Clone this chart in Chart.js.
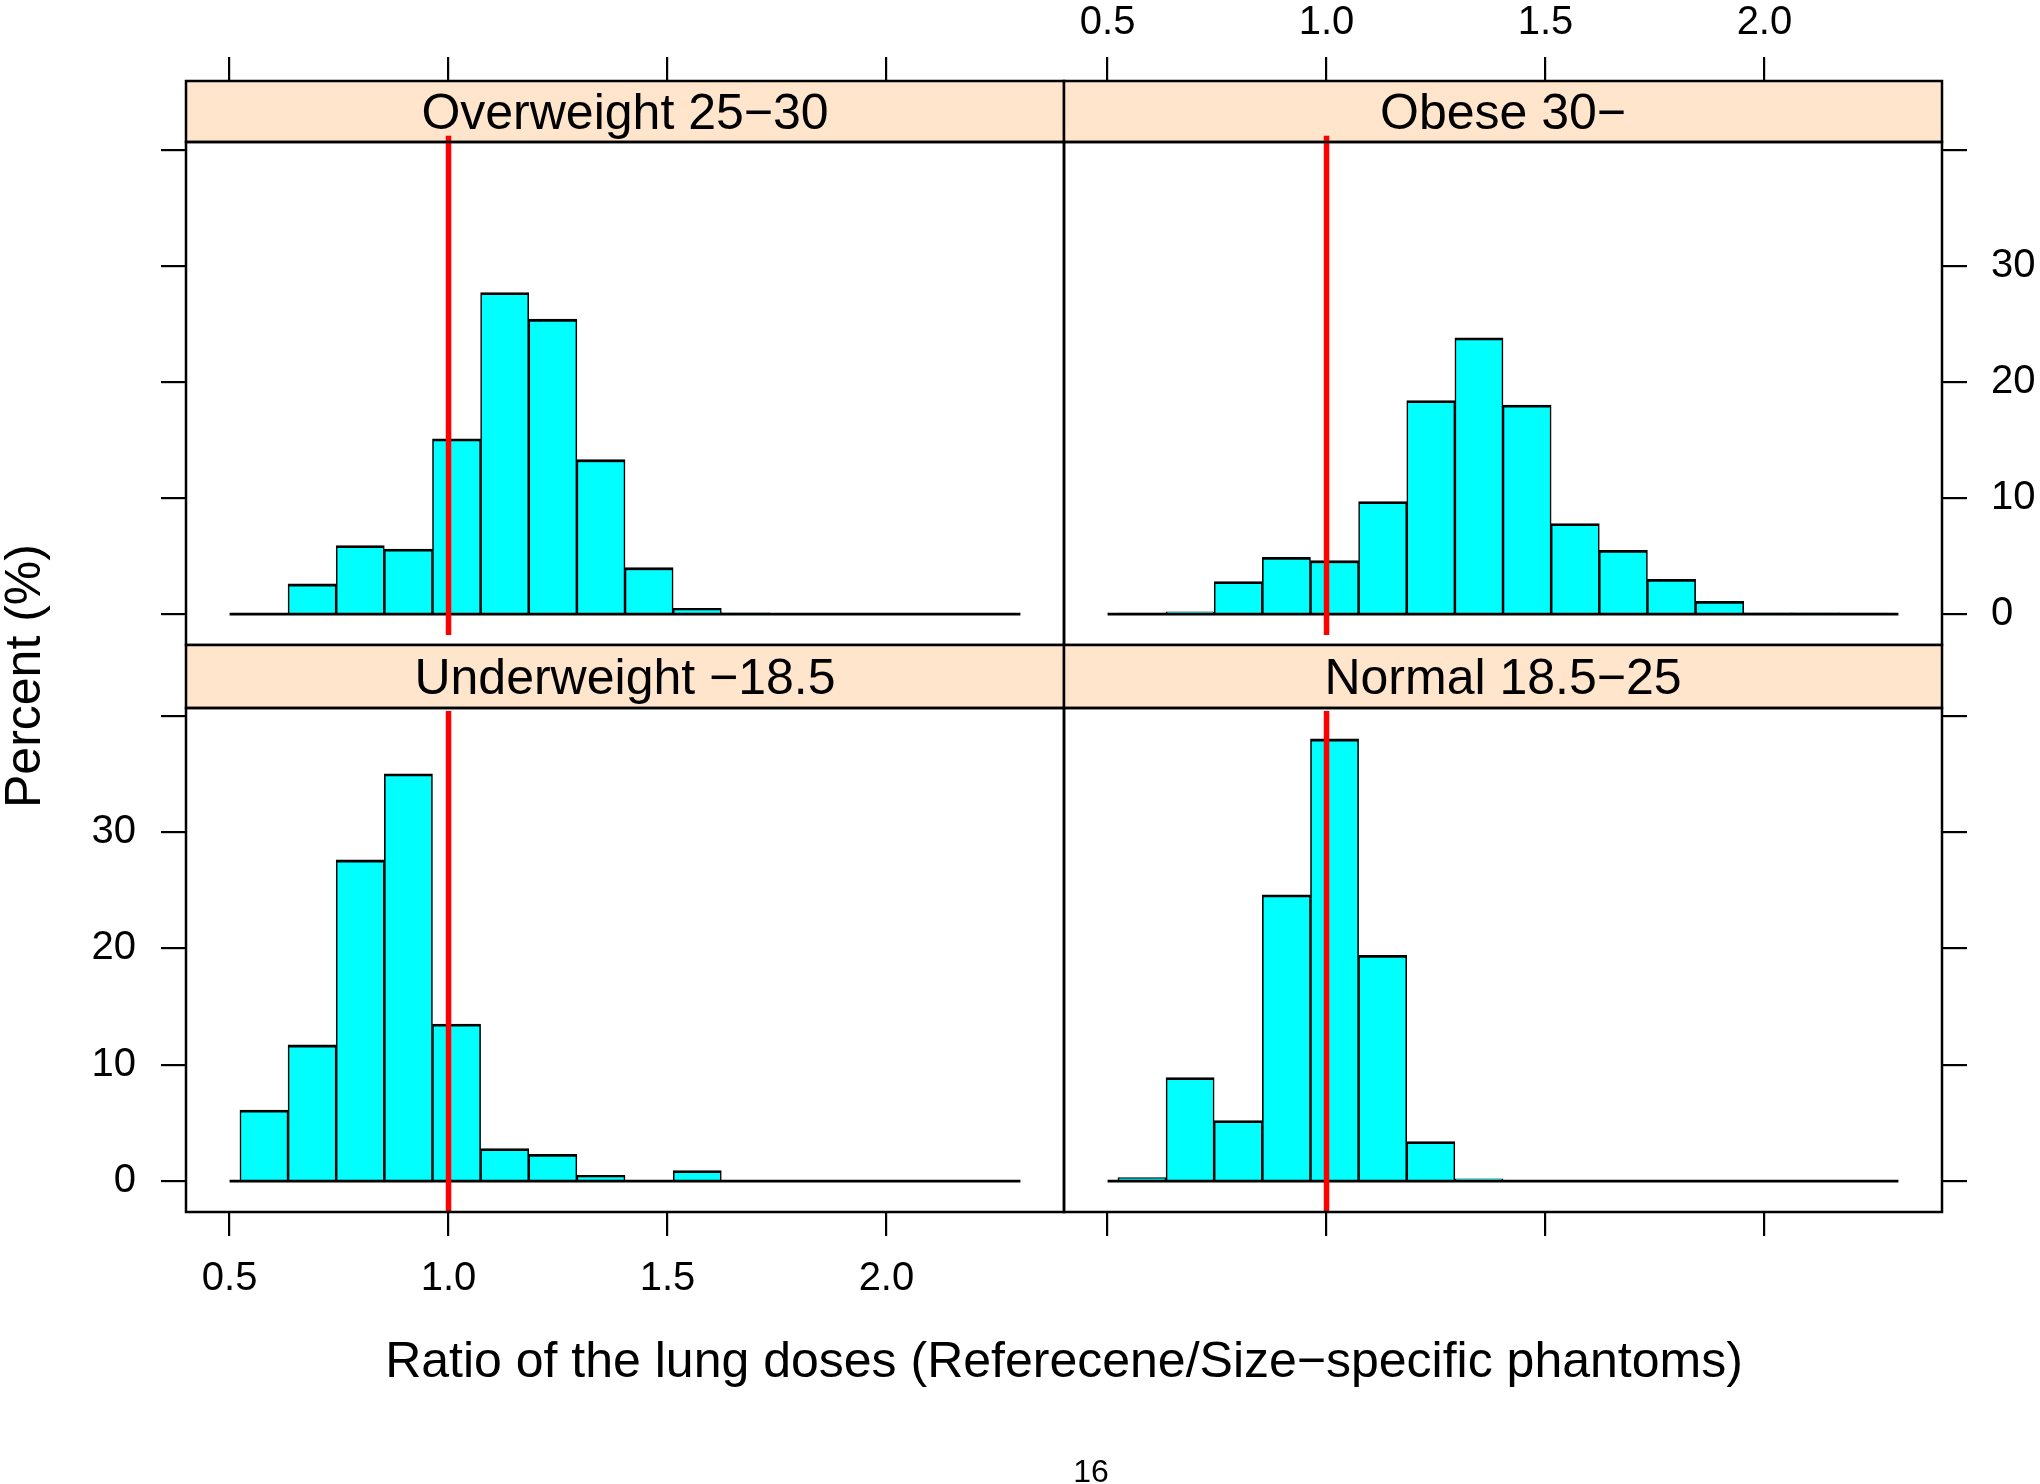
<!DOCTYPE html>
<html>
<head>
<meta charset="utf-8">
<script src="https://cdn.jsdelivr.net/npm/chart.js@4.4.1/dist/chart.umd.min.js"></script>
<style>
html, body { margin: 0; padding: 0; background: #fff; }
#wrap { position: relative; width: 2040px; height: 1484px; overflow: hidden; font-family: "Liberation Sans", Arial, sans-serif; }
#wrap canvas { position: absolute; left: 0; top: 0; }
.lbl { position: absolute; white-space: nowrap; color: #000; }
#xtitle { left: 1064px; top: 1335px; font-size: 50px; line-height: 50px; transform: translateX(-50%); }
#ytitle { left: 23px; top: 676px; font-size: 50px; line-height: 50px; transform: translate(-50%, -50%) rotate(-90deg); }
#page { left: 1091px; top: 1455px; font-size: 32px; line-height: 32px; transform: translateX(-50%); }
</style>
</head>
<body>
<div id="wrap">
  <canvas id="c-tl" width="2040" height="1484"></canvas>
  <canvas id="c-tr" width="2040" height="1484"></canvas>
  <canvas id="c-bl" width="2040" height="1484"></canvas>
  <canvas id="c-br" width="2040" height="1484"></canvas>
  <div class="lbl" id="xtitle">Ratio of the lung doses (Referecene/Size−specific phantoms)</div>
  <div class="lbl" id="ytitle">Percent (%)</div>
  <div class="lbl" id="page">16</div>
</div>
<script>
// histogram bins (midpoints of the common breaks)
const binMids = [0.5786, 0.6885, 0.7984, 0.9084, 1.0183, 1.1282, 1.2382, 1.3481,
                 1.4580, 1.5680, 1.6779, 1.7878, 1.8978, 2.0077, 2.1176, 2.2275];

// percent per bin
const overweight  = [0, 2.6, 5.9, 5.6, 15.1, 27.7, 25.4, 13.3, 4.0, 0.5, 0.1, 0, 0, 0, 0, 0];
const obese       = [0.05, 0.2, 2.8, 4.9, 4.6, 9.7, 18.4, 23.8, 18.0, 7.8, 5.5, 3.0, 1.1, 0.1, 0.1, 0.05];
const underweight = [6.1, 11.7, 27.6, 35.0, 13.5, 2.8, 2.3, 0.5, 0, 0.9, 0, 0, 0, 0, 0, 0];
const normal      = [0.3, 8.9, 5.2, 24.6, 38.0, 19.4, 3.4, 0.2, 0, 0, 0, 0, 0, 0, 0, 0];

const panelTitles = ['Overweight 25−30', 'Obese 30−', 'Underweight −18.5', 'Normal 18.5−25'];

// ticks
const xTicks = [0.5, 1.0, 1.5, 2.0];
const xTickLabels = ['0.5', '1.0', '1.5', '2.0'];
const yTicks = [0, 10, 20, 30, 40];
const yTickLabels = ['0', '10', '20', '30', ''];

// reference line at ratio 1 and the zero line
const refX = 1.0;
const refYTopRow = [-1.8, 41.2];
const refYBottomRow = [-2.66, 40.4];
const baseX = [0.5, 2.306];

const xRange = [0.4005, 2.4055];
const yRange = [-2.66, 40.66];

const W = 2040, H = 1484;
const FONT = '"Liberation Sans", Arial, sans-serif';

// strip + panel frame
const lattice = {
    id: 'lattice',
    beforeDatasetsDraw(chart, args, opts) {
        const a = chart.chartArea, ctx = chart.ctx;
        const sh = a.top - opts.stripTop;
        ctx.save();
        ctx.fillStyle = '#ffe5cc';
        ctx.fillRect(a.left, opts.stripTop, a.right - a.left, sh);
        ctx.lineWidth = 2.5;
        ctx.strokeStyle = '#000';
        ctx.strokeRect(a.left, opts.stripTop, a.right - a.left, sh);
        ctx.fillStyle = '#000';
        ctx.font = '50px ' + FONT;
        ctx.textAlign = 'center';
        ctx.textBaseline = 'alphabetic';
        ctx.fillText(opts.title, (a.left + a.right) / 2, opts.stripTop + (sh + 35.8) / 2);
        ctx.restore();
    },
    afterDatasetsDraw(chart) {
        const a = chart.chartArea, ctx = chart.ctx;
        ctx.save();
        ctx.lineWidth = 2.5;
        ctx.strokeStyle = '#000';
        ctx.strokeRect(a.left, a.top, a.right - a.left, a.bottom - a.top);
        ctx.restore();
    }
};

function makePanel(id, p) {
    const top = p.xPos === 'top';
    const left = p.yPos === 'left';
    // axis boxes reach the canvas edge so no tick label is clipped
    const ax = top ? p.rect[1] : 120;
    const ay = left ? p.rect[0] : W - p.rect[2];
    const pad = {
        left: left ? 0 : p.rect[0],
        right: left ? W - p.rect[2] : 0,
        top: top ? 0 : p.rect[1],
        bottom: top ? H - p.rect[3] : H - p.rect[3] - ax
    };
    const zeroPad = s => { s.paddingLeft = 0; s.paddingRight = 0; s.paddingTop = 0; s.paddingBottom = 0; };
    return new Chart(document.getElementById(id), {
        type: 'bar',
        data: {
            datasets: [
                {
                    type: 'line',
                    data: [{x: refX, y: p.refY[0]}, {x: refX, y: p.refY[1]}],
                    borderColor: '#ff0000',
                    borderWidth: 5.5,
                    pointRadius: 0,
                    clip: false,
                    order: 0
                },
                {
                    type: 'line',
                    data: baseX.map(x => ({x, y: 0})),
                    borderColor: '#000',
                    borderWidth: 2.8,
                    pointRadius: 0,
                    order: 1
                },
                {
                    data: binMids.map((x, i) => ({x, y: p.values[i]})),
                    backgroundColor: '#00ffff',
                    borderColor: '#000',
                    borderWidth: {top: 2.8, left: 1.6, right: 1.6, bottom: 0},
                    borderSkipped: false,
                    barPercentage: 1,
                    categoryPercentage: 1,
                    order: 2
                }
            ]
        },
        options: {
            responsive: false,
            animation: false,
            devicePixelRatio: 1,
            layout: { padding: pad },
            plugins: {
                legend: { display: false },
                tooltip: { enabled: false },
                lattice: { title: p.title, stripTop: p.stripTop }
            },
            scales: {
                x: {
                    type: 'linear',
                    position: p.xPos,
                    min: xRange[0], max: xRange[1],
                    offset: false,
                    grid: { display: true, drawOnChartArea: false, offset: false, color: '#000', lineWidth: 2.2, tickWidth: 2.2, tickLength: top ? 85 : 24 },
                    border: { display: false },
                    ticks: {
                        autoSkip: false, maxRotation: 0, includeBounds: false,
                        padding: top ? 10 : 19,
                        color: '#000',
                        font: { family: FONT, size: 40 },
                        callback: (v, i) => p.xLabels ? xTickLabels[i] : ''
                    },
                    afterBuildTicks: s => { s.ticks = xTicks.map(v => ({value: v})); },
                    afterFit: s => { s.height = ax; zeroPad(s); }
                },
                y: {
                    position: p.yPos,
                    min: yRange[0], max: yRange[1],
                    grid: { display: true, drawOnChartArea: false, color: '#000', lineWidth: 2.2, tickWidth: 2.2, tickLength: 25 },
                    border: { display: false },
                    ticks: {
                        autoSkip: false, includeBounds: false,
                        padding: left ? 25 : 24,
                        color: '#000',
                        font: { family: FONT, size: 40 },
                        callback: (v, i) => p.yLabels ? yTickLabels[i] : ''
                    },
                    afterBuildTicks: s => { s.ticks = yTicks.map(v => ({value: v})); },
                    afterFit: s => { s.width = ay; zeroPad(s); }
                }
            }
        },
        plugins: [lattice]
    });
}

makePanel('c-tl', { title: panelTitles[0], values: overweight, refY: refYTopRow, xPos: 'top', yPos: 'left',
    xLabels: false, yLabels: false, rect: [186, 142, 1064, 645], stripTop: 81 });
makePanel('c-tr', { title: panelTitles[1], values: obese, refY: refYTopRow, xPos: 'top', yPos: 'right',
    xLabels: true, yLabels: true, rect: [1064, 142, 1942, 645], stripTop: 81 });
makePanel('c-bl', { title: panelTitles[2], values: underweight, refY: refYBottomRow, xPos: 'bottom', yPos: 'left',
    xLabels: true, yLabels: true, rect: [186, 708, 1064, 1212], stripTop: 645 });
makePanel('c-br', { title: panelTitles[3], values: normal, refY: refYBottomRow, xPos: 'bottom', yPos: 'right',
    xLabels: false, yLabels: false, rect: [1064, 708, 1942, 1212], stripTop: 645 });
</script>
</body>
</html>
